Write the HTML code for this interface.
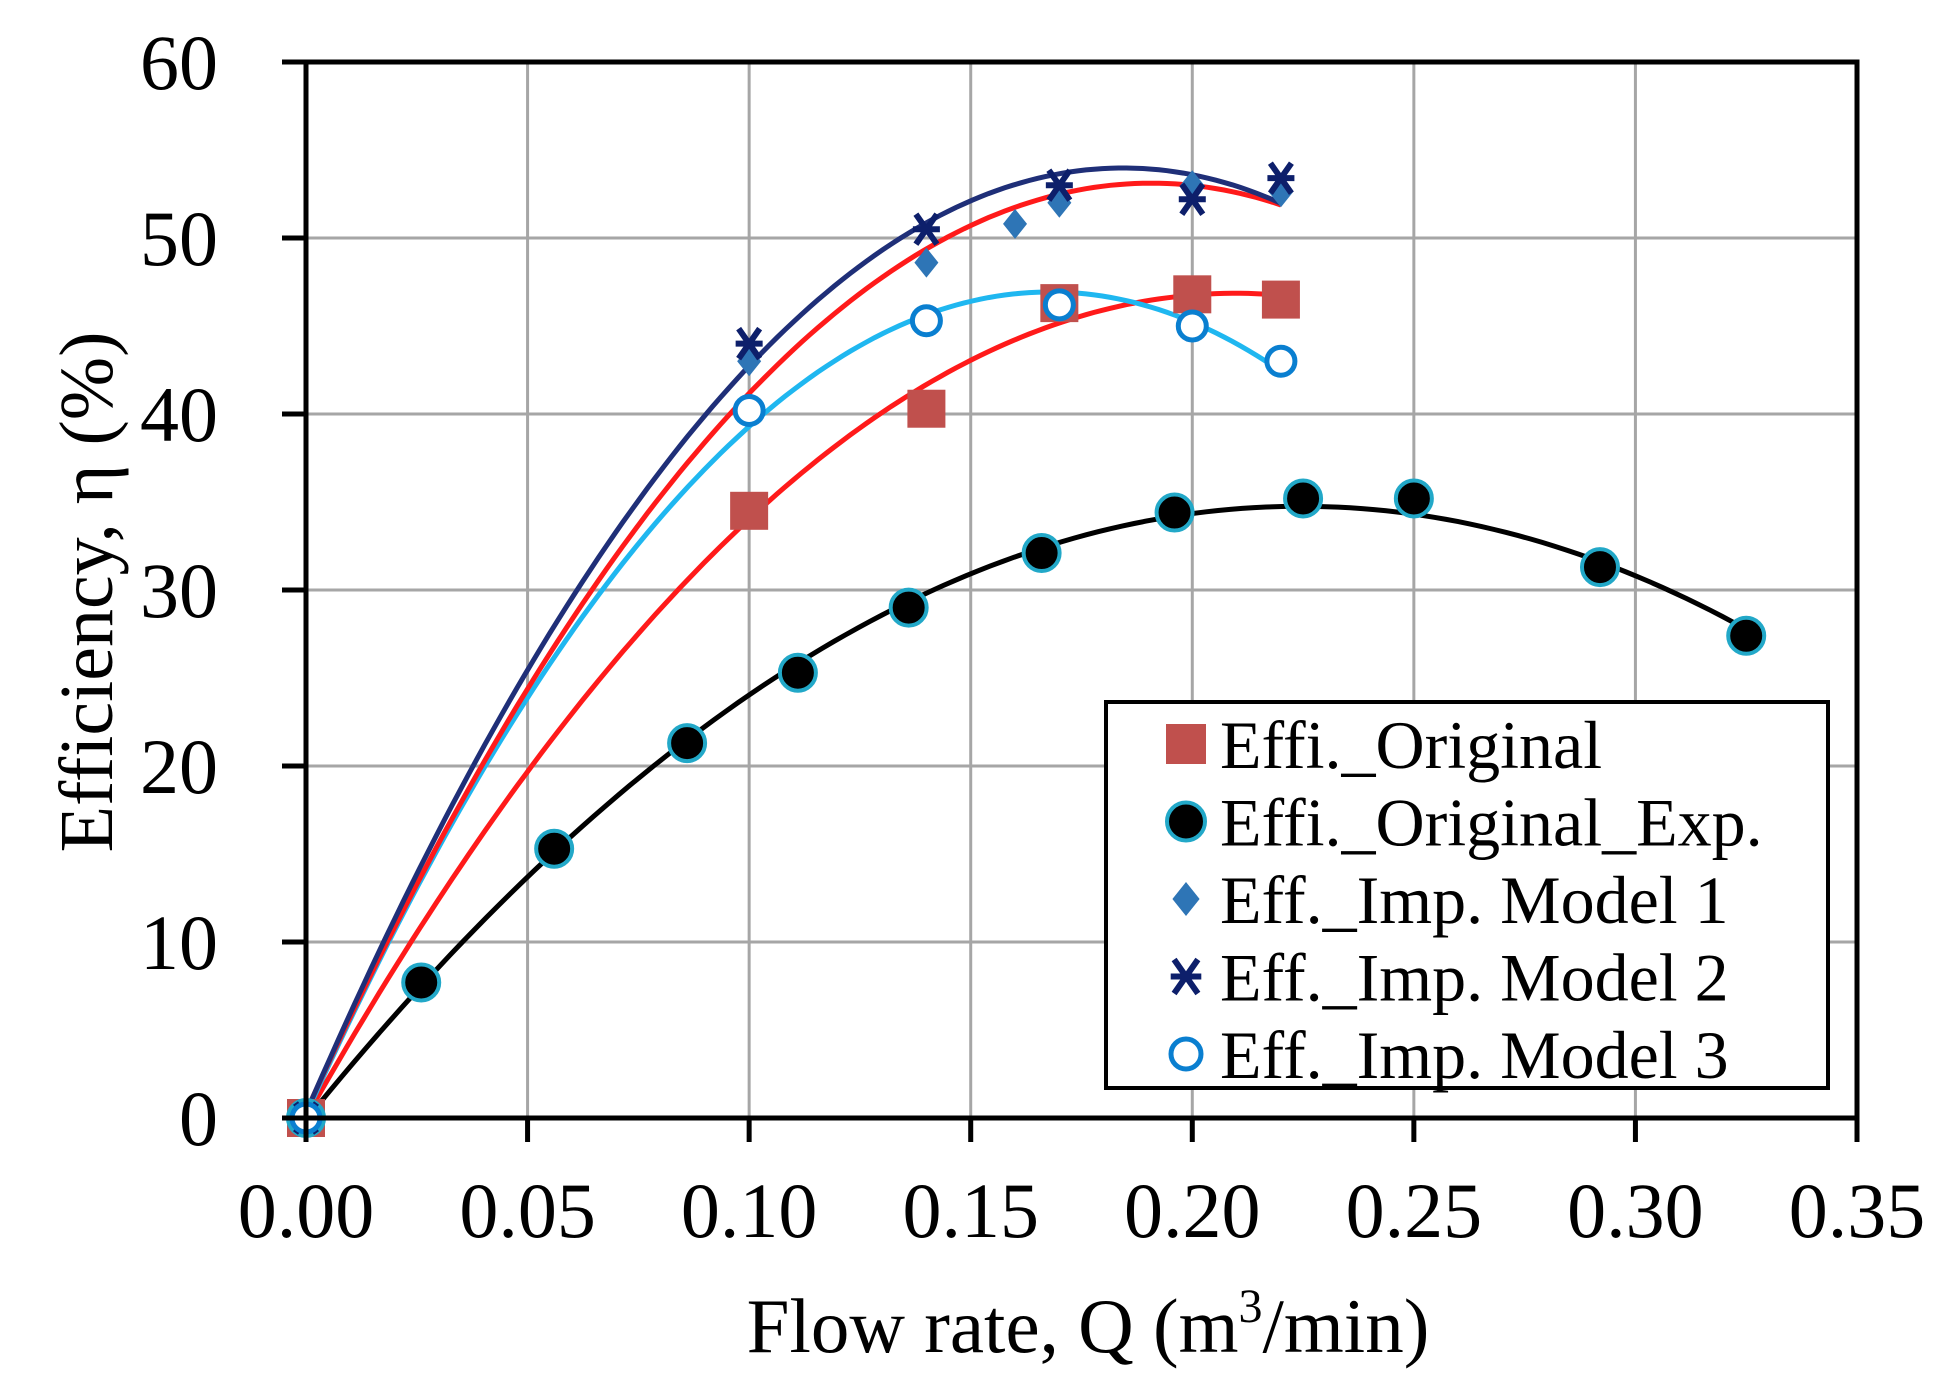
<!DOCTYPE html>
<html><head><meta charset="utf-8"><style>
html,body{margin:0;padding:0;background:#fff;}
svg{display:block;font-family:"Liberation Serif","DejaVu Serif",serif;}
</style></head><body>
<svg id="chart" width="1945" height="1384" viewBox="0 0 1945 1384" xmlns="http://www.w3.org/2000/svg">
<g id="grid"></g>
<g id="curves"></g>
<g id="marks"></g>
<g id="axes"></g>
<text x="0" y="0" font-size="76" text-anchor="middle" transform="translate(112,592) rotate(-90)">Efficiency,  η (%)</text>
<text x="1088" y="1352" font-size="77" text-anchor="middle">Flow rate, Q (m<tspan font-size="48" dy="-30">3</tspan><tspan dy="30">/min)</tspan></text>
<g id="legend">
<rect x="1106" y="702" width="722" height="386" fill="#fff" stroke="#000" stroke-width="4"/>
</g>
</svg>
<script>
const xTicks=[0,0.05,0.10,0.15,0.20,0.25,0.30,0.35];
const xTickLabels=["0.00","0.05","0.10","0.15","0.20","0.25","0.30","0.35"];
const yTicks=[0,10,20,30,40,50,60];
const yTickLabels=["0","10","20","30","40","50","60"];
const origX=[0,0.1,0.14,0.17,0.2,0.22];
const origY=[0,34.5,40.3,46.3,46.8,46.5];
const expX=[0,0.026,0.056,0.086,0.111,0.136,0.166,0.196,0.225,0.25,0.292,0.325];
const expY=[0,7.7,15.3,21.3,25.3,29.0,32.1,34.4,35.2,35.2,31.3,27.4];
const m1X=[0,0.1,0.14,0.16,0.17,0.2,0.22];
const m1Y=[0,43,48.6,50.8,52,53,52.6];
const m2X=[0,0.1,0.14,0.17,0.2,0.22];
const m2Y=[0,44,50.5,53,52.2,53.4];
const m3X=[0,0.1,0.14,0.17,0.2,0.22];
const m3Y=[0,40.2,45.3,46.2,45,43];

const NS="http://www.w3.org/2000/svg";
const X0=306,X1=1857,Y0=1118,Y1=62;
function sx(v){return X0+(v-0)/(0.35-0)*(X1-X0);}
function sy(v){return Y0-(v-0)/(60-0)*(Y0-Y1);}
function mk(tag,attrs,parent){const e=document.createElementNS(NS,tag);for(const k in attrs)e.setAttribute(k,attrs[k]);parent.appendChild(e);return e;}
const grid=document.getElementById('grid'),axes=document.getElementById('axes'),curves=document.getElementById('curves'),marks=document.getElementById('marks'),legend=document.getElementById('legend');

xTicks.forEach((t,i)=>{
  if(i>0){const g=mk('line',{x1:sx(t),x2:sx(t),y1:Y1,y2:Y0,stroke:'#a6a6a6','stroke-width':3},grid);
  
  }
  const tk=mk('line',{x1:sx(t),x2:sx(t),y1:Y0,y2:Y0+24,stroke:'#000','stroke-width':5},axes);
  
  
  const tx=mk('text',{x:sx(t),y:1237,'font-size':78,'text-anchor':'middle'},axes);
  
  
  tx.textContent=xTickLabels[i];
});
yTicks.forEach((t,i)=>{
  if(i>0){const g=mk('line',{x1:X0,x2:X1,y1:sy(t),y2:sy(t),stroke:'#a6a6a6','stroke-width':3},grid);
  
  }
  const tk=mk('line',{x1:X0-24,x2:X0,y1:sy(t),y2:sy(t),stroke:'#000','stroke-width':5},axes);
  
  
  const tx=mk('text',{x:218,y:sy(t)+27,'font-size':78,'text-anchor':'end'},axes);
  
  
  tx.textContent=yTickLabels[i];
});
const fr=mk('path',{d:`M${X0},${Y1}H${X1}V${Y0}H${X0}Z`,fill:'none',stroke:'#000','stroke-width':5},axes);



function polyfit(xs,ys,n){
  const m=n+1,A=[],b=[];
  for(let i=0;i<m;i++){A.push(new Array(m).fill(0));b.push(0);}
  for(let k=0;k<xs.length;k++){for(let i=0;i<m;i++){b[i]+=ys[k]*Math.pow(xs[k],i);for(let j=0;j<m;j++)A[i][j]+=Math.pow(xs[k],i+j);}}
  for(let i=0;i<m;i++){let p=i;for(let r=i+1;r<m;r++)if(Math.abs(A[r][i])>Math.abs(A[p][i]))p=r;
    [A[i],A[p]]=[A[p],A[i]];[b[i],b[p]]=[b[p],b[i]];
    for(let r=0;r<m;r++){if(r===i)continue;const f=A[r][i]/A[i][i];for(let c=i;c<m;c++)A[r][c]-=f*A[i][c];b[r]-=f*b[i];}}
  return b.map((v,i)=>v/A[i][i]);
}
function curve(xs,ys,color,name){
  const c=polyfit(xs,ys,2);const xmax=Math.max(...xs);let d='';
  for(let i=0;i<=120;i++){const x=xmax*i/120;let y=0;c.forEach((a,k)=>y+=a*Math.pow(x,k));d+=(i?'L':'M')+sx(x).toFixed(1)+','+sy(y).toFixed(1);}
  const p=mk('path',{d:d,fill:'none',stroke:color,'stroke-width':5},curves);
  
  
}
curve(expX,expY,'#000','trend-original-exp');
curve(origX,origY,'#ff1a1a','trend-original');
curve(m3X,m3Y,'#1fb7f0','trend-model-3');
curve(m1X,m1Y,'#ff1a1a','trend-model-1');
curve(m2X,m2Y,'#1f2f78','trend-model-2');

function square(x,y,p,s){return mk('rect',{x:x-s/2,y:y-s/2,width:s,height:s,fill:'#c0504d'},p);}
function dot(x,y,p,r){return mk('circle',{cx:x,cy:y,r:r,fill:'#000',stroke:'#22a8c8','stroke-width':4},p);}
function diamond(x,y,p,s){return mk('path',{d:`M${x},${y-s}L${x+s*0.8},${y}L${x},${y+s}L${x-s*0.8},${y}Z`,fill:'#2e75b6'},p);}
function star(x,y,p,s){return mk('path',{d:`M${x-s*0.7},${y-s}L${x+s*0.7},${y+s}M${x+s*0.7},${y-s}L${x-s*0.7},${y+s}M${x-s*0.9},${y}L${x+s*0.9},${y}`,fill:'none',stroke:'#0d1f6b','stroke-width':6},p);}
function ring(x,y,p,r){return mk('circle',{cx:x,cy:y,r:r,fill:'#fff',stroke:'#0a7fd0','stroke-width':5},p);}

origX.forEach((v,i)=>{const e=square(sx(v),sy(origY[i]),marks,38);
  
  });
expX.forEach((v,i)=>{const e=dot(sx(v),sy(expY[i]),marks,18);
  
  });
m1X.forEach((v,i)=>{const e=diamond(sx(v),sy(m1Y[i]),marks,15);
  
  });
m2X.forEach((v,i)=>{const e=star(sx(v),sy(m2Y[i]),marks,15);
  
  });
m3X.forEach((v,i)=>{const e=ring(sx(v),sy(m3Y[i]),marks,14);
  
  });

const legNames=["Effi._Original","Effi._Original_Exp.","Eff._Imp. Model 1","Eff._Imp. Model 2","Eff._Imp. Model 3"];
const legFns=[(x,y,p)=>square(x,y,p,40),(x,y,p)=>dot(x,y,p,19),(x,y,p)=>diamond(x,y,p,17),(x,y,p)=>star(x,y,p,17),(x,y,p)=>ring(x,y,p,15)];
legNames.forEach((n,i)=>{
  const cy=744+i*77.5;
  const m=legFns[i](1186,cy,legend);
  
  
  const t=mk('text',{x:1220,y:cy+24,'font-size':68},legend);
  
  
  t.textContent=n;
});
</script>
</body></html>
